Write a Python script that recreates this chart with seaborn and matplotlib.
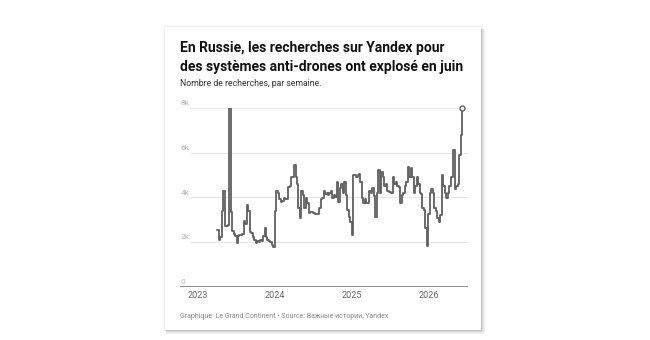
import numpy as np
import pandas as pd
import seaborn as sns
import matplotlib.pyplot as plt
import matplotlib.patches as mpatches
import matplotlib.transforms as mtransforms

# Weekly Yandex searches for anti-drone systems
start_week = "2023-04-03"
searches = [
    2550, 2100, 2200, 3400, 4300, 2700, 2700, 2750, 8000, 3350,
    2500, 2350, 2250, 1950, 2250, 2300, 2300, 2350, 2950, 2800,
    3650, 3400, 2450, 2400, 2200, 2100, 1950, 2050, 2000, 2100,
    2050, 2250, 2600, 2200, 2100, 2050, 2000, 1850, 1750, 3400,
    4300, 4200, 3900, 3800, 3850, 3950, 3900, 3900, 4450, 4500,
    4900, 4900, 5450, 4900, 4600, 3500, 3050, 4300, 4100, 3500,
    3950, 3750, 3300, 3350, 3350, 3300, 3250, 3250, 3250, 3500,
    3900, 3950, 4300, 4150, 4200, 4100, 4200, 4300, 3950, 4100,
    4000, 4700, 3800, 4400, 4600, 4200, 4700, 4100, 3450, 3100,
    2900, 2300, 5000, 5000, 4900, 5000, 5050, 4700, 3950, 3750,
    3900, 3750, 3750, 4300, 4200, 4400, 4050, 3100, 4200, 5200,
    4200, 5150, 4900, 4500, 4600, 4300, 4250, 4250, 4200, 4900,
    4600, 4700, 4500, 4450, 3750, 4100, 4200, 4500, 4700, 5350,
    4900, 5300, 4900, 4200, 4500, 4900, 4600, 4200, 4150, 3500,
    3450, 2600, 1800, 3250, 4200, 4350, 4200, 3500, 3400, 3050,
    2900, 3200, 5000, 4500, 4200, 3950, 4200, 4500, 4900, 4900,
    6100, 4350, 4500, 4600, 5900, 6800, 8000,
]
y_ticks = [0, 2000, 4000, 6000, 8000]
y_labels = ["0", "2k", "4k", "6k", "8k"]
x_years = [2023, 2024, 2025, 2026]

df = pd.DataFrame({
    "week": pd.date_range(start_week, periods=len(searches), freq="7D"),
    "searches": searches,
})

sns.set_theme(style="white")
plt.rcParams["font.family"] = ["Roboto", "DejaVu Sans"]

fig = plt.figure(figsize=(6.5, 3.4), dpi=100)
fig.patch.set_facecolor("white")

# card with a soft shadow (faint all round, stronger right / bottom)
W, H = 650, 340
cx0, cy0, cx1, cy1 = 165, 27, 481, 330
for g, a in [(2, 0.025), (1, 0.04)]:
    fig.patches.append(mpatches.Rectangle(
        ((cx0 - g) / W, 1 - (cy1 + g) / H), (cx1 - cx0 + 2 * g) / W, (cy1 - cy0 + 2 * g) / H,
        transform=fig.transFigure, facecolor="black", alpha=a, edgecolor="none", zorder=0))
for g, a in [(5, 0.02), (4, 0.03), (3, 0.04), (2, 0.05), (1, 0.06)]:
    fig.patches.append(mpatches.Rectangle(
        ((cx0 + 1) / W, 1 - (cy1 + g) / H), (cx1 - cx0 + g - 1) / W, (cy1 - cy0 + g - 2) / H,
        transform=fig.transFigure, facecolor="black", alpha=a, edgecolor="none", zorder=0))
fig.patches.append(mpatches.Rectangle(
    (cx0 / W, 1 - cy1 / H), (cx1 - cx0) / W, (cy1 - cy0) / H,
    transform=fig.transFigure, facecolor="white", edgecolor="none", zorder=1))

ax = fig.add_axes([180 / W, 1 - 286.5 / H, 288 / W, 178.5 / H])
ax.set_facecolor("none")
ax.set_zorder(2)

sns.lineplot(data=df, x="week", y="searches", ax=ax, color="#606060",
             linewidth=1.3, drawstyle="steps-post")
last = df.iloc[-1]
ax.plot([last["week"]], [last["searches"]], marker="o", markersize=3.5,
        markerfacecolor="white", markeredgecolor="#606060", markeredgewidth=1,
        clip_on=False, zorder=5)

ax.set_xlim(pd.Timestamp("2022-10-08"), pd.Timestamp("2026-07-05"))
ax.set_ylim(0, 8000)

# gridlines start to the right of the y labels
for v in y_ticks[1:]:
    ax.axhline(v, xmin=10 / 288, xmax=1, color="#e8e8e8", linewidth=0.8, zorder=0)
ax.axhline(0, color="#8c8c8c", linewidth=1.4, zorder=3)

trans = mtransforms.blended_transform_factory(ax.transAxes, ax.transData)
for v, lab in zip(y_ticks, y_labels):
    ax.text(0.003, v + 70, lab, transform=trans, fontsize=6, color="#b5b5b5",
            ha="left", va="bottom")

ax.set_yticks([])
ax.set_xticks([pd.Timestamp(f"{y}-01-01") for y in x_years])
ax.set_xticklabels([str(y) for y in x_years], fontsize=6.5, color="#666666")
ax.tick_params(axis="x", length=0, pad=3.5)
ax.set_xlabel("")
ax.set_ylabel("")
for s in ax.spines.values():
    s.set_visible(False)

fig.text(180 / W, 1 - 70.5 / H, "En Russie, les recherches sur Yandex pour\ndes systèmes anti-drones ont explosé en juin",
         fontsize=10, fontweight="bold", color="#111111", ha="left", va="baseline",
         linespacing=1.38, zorder=3)
fig.text(180 / W, 1 - 86 / H, "Nombre de recherches, par semaine.",
         fontsize=6.2, color="#333333", ha="left", va="baseline", zorder=3)
fig.text(180 / W, 1 - 318 / H, "Graphique: Le Grand Continent • Source: Важные истории, Yandex",
         fontsize=5, color="#8a8a8a", ha="left", va="baseline", zorder=3)

fig.savefig("out.png", dpi=100, facecolor="white")
